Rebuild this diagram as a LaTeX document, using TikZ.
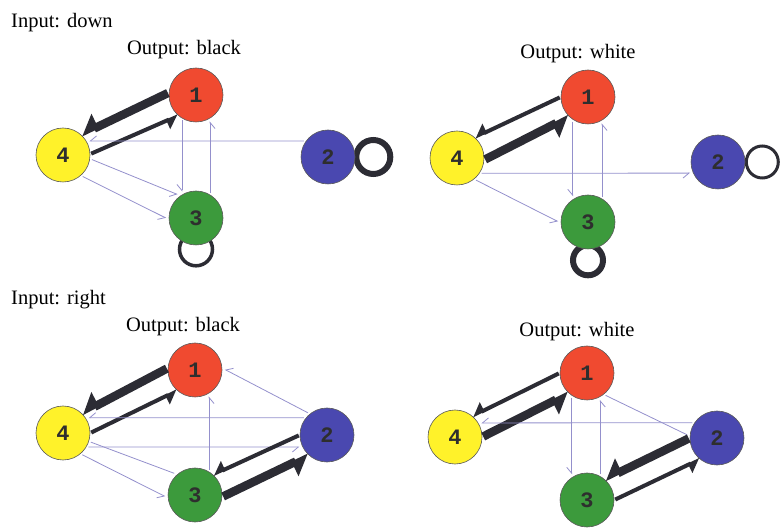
\documentclass[tikz,border=0pt]{standalone}
\usepackage{fontspec}
\setmainfont{Liberation Serif}
\newfontfamily\digitfont{Liberation Mono}
\usetikzlibrary{arrows.meta}
\pgfdeclarelayer{bg}
\pgfsetlayers{bg,main}
\definecolor{cred}{HTML}{F04A30}
\definecolor{cyellow}{HTML}{FFF22A}
\definecolor{cblue}{HTML}{4A48B0}
\definecolor{cgreen}{HTML}{3C9A3C}
\definecolor{cthin}{HTML}{9490CC}
\definecolor{cdark}{HTML}{2C2C34}
\definecolor{cdigit}{HTML}{2E2E2E}
\tikzset{
  vtx/.style={circle, draw=black!65, line width=0.6pt, minimum size=54pt, inner sep=0pt,
    font=\digitfont\bfseries\fontsize{22}{22}\selectfont, text=cdigit},
  vred/.style={vtx, fill=cred},
  vyel/.style={vtx, fill=cyellow},
  vblu/.style={vtx, fill=cblue},
  vgrn/.style={vtx, fill=cgreen},
  lbl/.style={font=\fontsize{20.5}{24}\selectfont, inner sep=0pt},
  eplain/.style={draw=cthin, line width=0.8pt, shorten <=2pt, shorten >=3pt},
  ethin/.style={eplain, -{Straight Barb[harpoon, swap, length=6pt, width=10pt]}},
  emed/.style={draw=cdark, line width=4pt, shorten <=1pt, -{Triangle[harpoon, swap, length=11pt, width=18pt]}},
  ebig/.style={draw=cdark, line width=8.5pt, shorten <=1pt, -{Triangle[harpoon, swap, length=16pt, width=28pt]}},
  loopthin/.style={draw=cdark, line width=3pt},
  loopthick/.style={draw=cdark, line width=6pt},
}
\begin{document}
\begin{tikzpicture}[x=1pt, y=-1pt]
\useasboundingbox (0,0) rectangle (780,529);

% ---------- labels ----------
\node[lbl, anchor=base west] (t1) at (11,28) {Input: down};
\node[lbl, anchor=base] (t2) at (184,55) {Output: black};
\node[lbl, anchor=base] (t3) at (578,59) {Output: white};
\node[lbl, anchor=base west] (t4) at (11,305) {Input: right};
\node[lbl, anchor=base] (t5) at (183,332) {Output: black};
\node[lbl, anchor=base] (t6) at (577,337) {Output: white};

% ---------- panel A (top left) ----------
\node[vred] (a1) at (196,95) {1};
\node[vblu] (a2) at (328,157) {2};
\node[vgrn] (a3) at (196,218) {3};
\node[vyel] (a4) at (63,155) {4};
\draw[ebig] (a1.175) -- (a4.48);
\draw[emed] (a4.2) -- (a1.229);
\draw[ethin] (a2.144) -- (a4.31);
\draw[ethin] (a1.239) -- (a3.121);
\draw[ethin] (a3.59) -- (a1.301);
\draw[ethin] (a4.-8) -- (a3.125);
\draw[ethin] (a4.311) -- (a3.183);
\begin{pgfonlayer}{bg}
\draw[loopthick] ([xshift=18pt]a2.east) circle[radius=17pt];
\draw[loopthin, line width=3.5pt] ([yshift=-4pt]a3.south) circle[radius=16.5pt];
\end{pgfonlayer}

% ---------- panel B (top right) ----------
\node[vred] (b1) at (588,97) {1};
\node[vblu] (b2) at (718,162) {2};
\node[vgrn] (b3) at (588,222) {3};
\node[vyel] (b4) at (457,158) {4};
\draw[emed] (b1.180) -- (b4.49);
\draw[ebig] (b4.356) -- (b1.226);
\draw[ethin] (b4.326) -- (b2.204);
\draw[ethin] (b1.236) -- (b3.124);
\draw[ethin] (b3.59) -- (b1.301);
\draw[ethin] (b4.309) -- (b3.182);
\begin{pgfonlayer}{bg}
\draw[loopthin] ([xshift=17pt]b2.east) circle[radius=16pt];
\draw[loopthick] ([yshift=-11pt]b3.south) circle[radius=15pt];
\end{pgfonlayer}

% ---------- panel C (bottom left) ----------
\node[vred] (c1) at (195,370) {1};
\node[vblu] (c2) at (327,435) {2};
\node[vgrn] (c3) at (195,495) {3};
\node[vyel] (c4) at (63,433) {4};
\draw[ebig] (c1.176) -- (c4.46);
\draw[emed] (c4.0) -- (c1.229);
\draw[ethin] (c2.129) -- (c1.4);
\draw[ethin] (c2.141) -- (c4.34);
\draw[ethin] (c4.329) -- (c2.206);
\draw[ethin] (c3.59) -- (c1.301);
\draw[eplain] (c4.342) -- (c3.131);
\draw[ethin] (c4.310) -- (c3.186);
\draw[emed] (c2.180) -- (c3.48);
\draw[ebig] (c3.356) -- (c2.228);

% ---------- panel D (bottom right) ----------
\node[vred] (d1) at (587,373) {1};
\node[vblu] (d2) at (717,438) {2};
\node[vgrn] (d3) at (587,500) {3};
\node[vyel] (d4) at (455,437) {4};
\draw[emed] (d1.180) -- (d4.50);
\draw[ebig] (d4.0) -- (d1.228);
\draw[ethin] (d2.146) -- (d4.31);
\draw[eplain] (d1.308) -- (d2.176);
\draw[ethin] (d1.236) -- (d3.124);
\draw[ethin] (d3.61) -- (d1.299);
\draw[ebig] (d2.180) -- (d3.49);
\draw[emed] (d3.0) -- (d2.231);
\end{tikzpicture}
\end{document}
